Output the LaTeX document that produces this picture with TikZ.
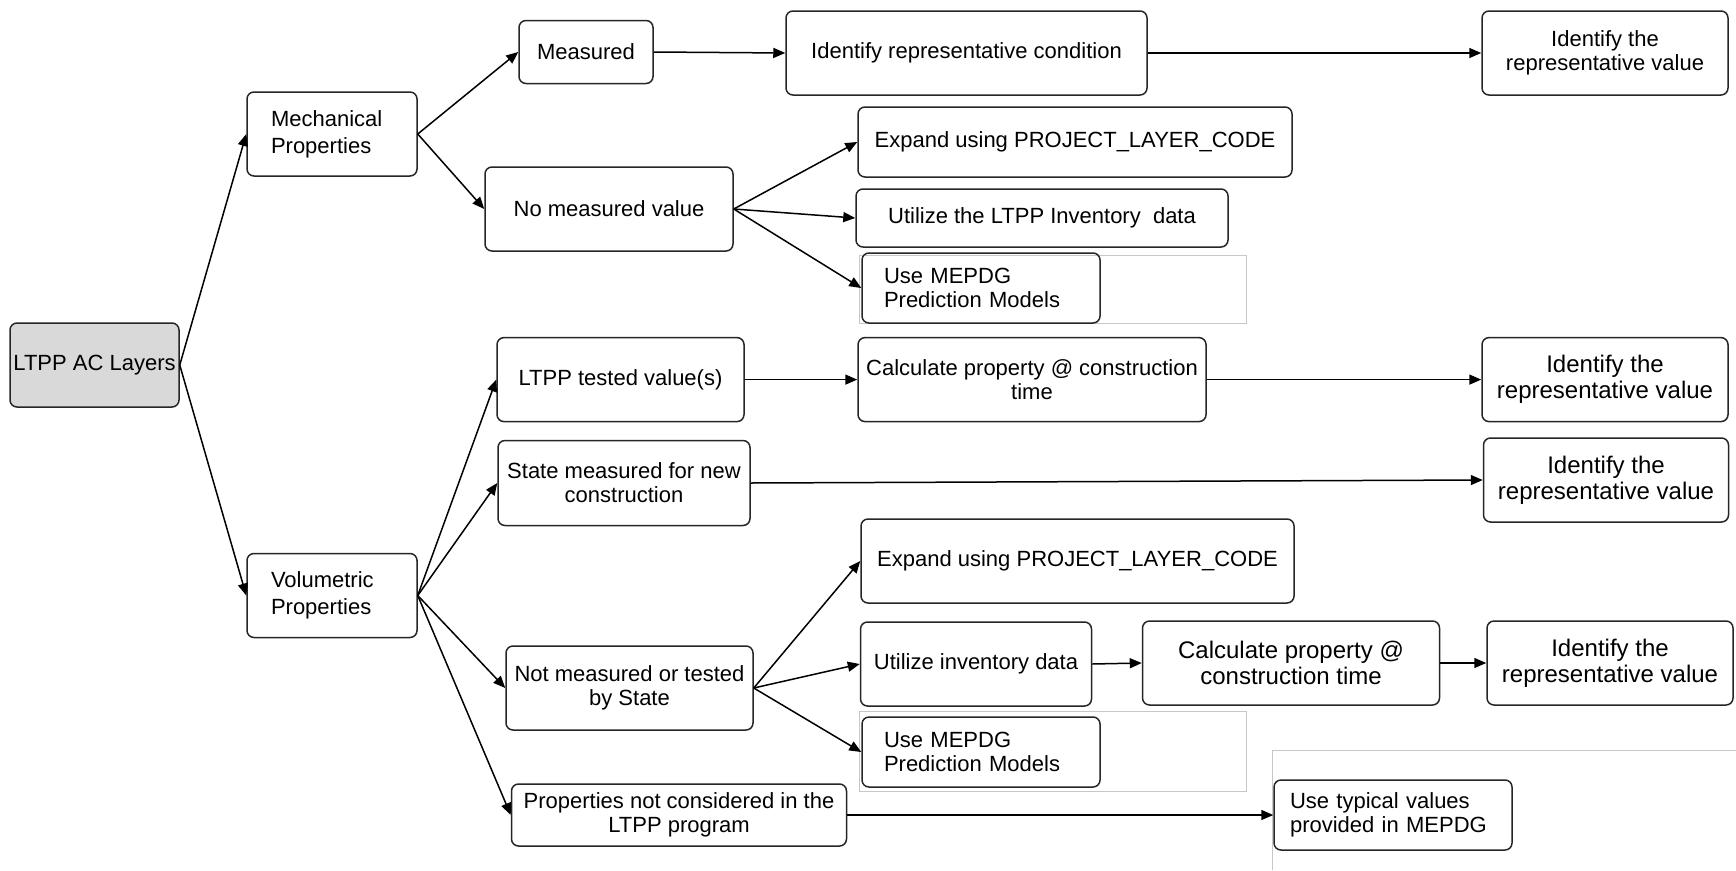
\documentclass[tikz,border=0pt]{standalone}
\usepackage{fontspec}
\setmainfont{Liberation Sans}
\usetikzlibrary{arrows.meta}
\begin{document}
\begin{tikzpicture}[x=1pt,y=-1pt,
  box/.style={draw=black!85, line width=1.5pt, rounded corners=7pt, inner sep=0pt, align=center, font=\fontsize{22}{24}\selectfont},
  big/.style={font=\fontsize{24}{26}\selectfont},
  sz/.style 2 args={minimum width=#1pt, minimum height=#2pt},
  arr/.style={draw=black, line width=1.5pt, -{Triangle[length=12pt,width=10pt]}},
  frame/.style={draw=black!22, line width=1pt}]
\useasboundingbox (0,0) rectangle (1736,870);
\fill[white] (0,0) rectangle (1736,870);
% light frames
\draw[frame] (859,255) rectangle (1246,323);
\draw[frame] (859,711) rectangle (1246,791);
\draw[frame] (1272,870) -- (1272,750) -- (1736,750);
% nodes
\node[box, sz={169}{84}, fill=black!15] (root) at (94.5,365) {LTPP AC Layers};
\node[box, sz={170}{84}, text width=122pt, align=left, font=\fontsize{22}{27}\selectfont] (mech) at (332,134) {Mechanical\\Properties};
\node[box, sz={134}{63}] (meas) at (586,52) {Measured};
\node[box, sz={361}{84}] (cond) at (966.5,53) {Identify representative condition};
\node[box, sz={246}{84}] (rep1) at (1605,53) {Identify the\\representative value};
\node[box, sz={248}{84}] (nomeas) at (609,209) {No measured value};
\node[box, sz={434}{70}] (exp1) at (1075,142) {Expand using PROJECT\_LAYER\_CODE};
\node[box, sz={372}{58}] (util1) at (1042,218) {Utilize the LTPP Inventory~ data};
\node[box, sz={238}{70}, text width=194pt, align=left] (mep1) at (981,288) {Use MEPDG\\Prediction Models};
\node[box, sz={247}{84}] (tested) at (620.5,379.6) {LTPP tested value(s)};
\node[box, sz={348}{84}] (calc1) at (1032,379.6) {Calculate property @ construction\\time};
\node[box, big, sz={246}{84}] (rep2) at (1605,379.6) {Identify the\\representative value};
\node[box, sz={252}{85}] (state) at (624,483) {State measured for new\\construction};
\node[box, big, sz={245}{84}] (rep3) at (1606,480) {Identify the\\representative value};
\node[box, sz={170}{84}, text width=122pt, align=left, font=\fontsize{22}{27}\selectfont] (vol) at (332,595.5) {Volumetric\\Properties};
\node[box, sz={433}{84}] (exp2) at (1077.5,561) {Expand using PROJECT\_LAYER\_CODE};
\node[box, sz={231}{84}] (util2) at (976,664) {Utilize inventory data};
\node[box, big, sz={297}{84}] (calc2) at (1291,663) {Calculate property @\\construction time};
\node[box, big, sz={246}{84}] (rep4) at (1610,663) {Identify the\\representative value};
\node[box, sz={247}{84}] (notm) at (629.5,688) {Not measured or tested\\by State};
\node[box, sz={238}{70}, text width=194pt, align=left] (mep2) at (981,752) {Use MEPDG\\Prediction Models};
\node[box, sz={335}{62}] (notc) at (679,815) {Properties not considered in the\\LTPP program};
\node[box, sz={238}{70}, text width=206pt, align=left] (typ) at (1393,815) {Use typical values\\provided in MEPDG};
% connectors
\draw[arr] (root.east) -- (mech.west);
\draw[arr] (root.east) -- (vol.west);
\draw[arr] (mech.east) -- (meas.west);
\draw[arr] (mech.east) -- (nomeas.west);
\draw[arr] (meas.east) -- (cond.west);
\draw[arr] (cond.east) -- (rep1.west);
\draw[arr] (nomeas.east) -- (exp1.west);
\draw[arr] (nomeas.east) -- (util1.west);
\draw[arr] (nomeas.east) -- (mep1.west);
\draw[arr] (vol.east) -- (tested.west);
\draw[arr] (vol.east) -- (state.west);
\draw[arr] (vol.east) -- (notm.west);
\draw[arr] (vol.east) -- (notc.west);
\draw[arr] (tested.east) -- (calc1.west);
\draw[arr] (calc1.east) -- (rep2.west);
\draw[arr] (state.east) -- (rep3.west);
\draw[arr] (notm.east) -- (exp2.west);
\draw[arr] (notm.east) -- (util2.west);
\draw[arr] (notm.east) -- (mep2.west);
\draw[arr] (util2.east) -- (calc2.west);
\draw[arr] (calc2.east) -- (rep4.west);
\draw[arr] (notc.east) -- (typ.west);
\end{tikzpicture}
\end{document}
